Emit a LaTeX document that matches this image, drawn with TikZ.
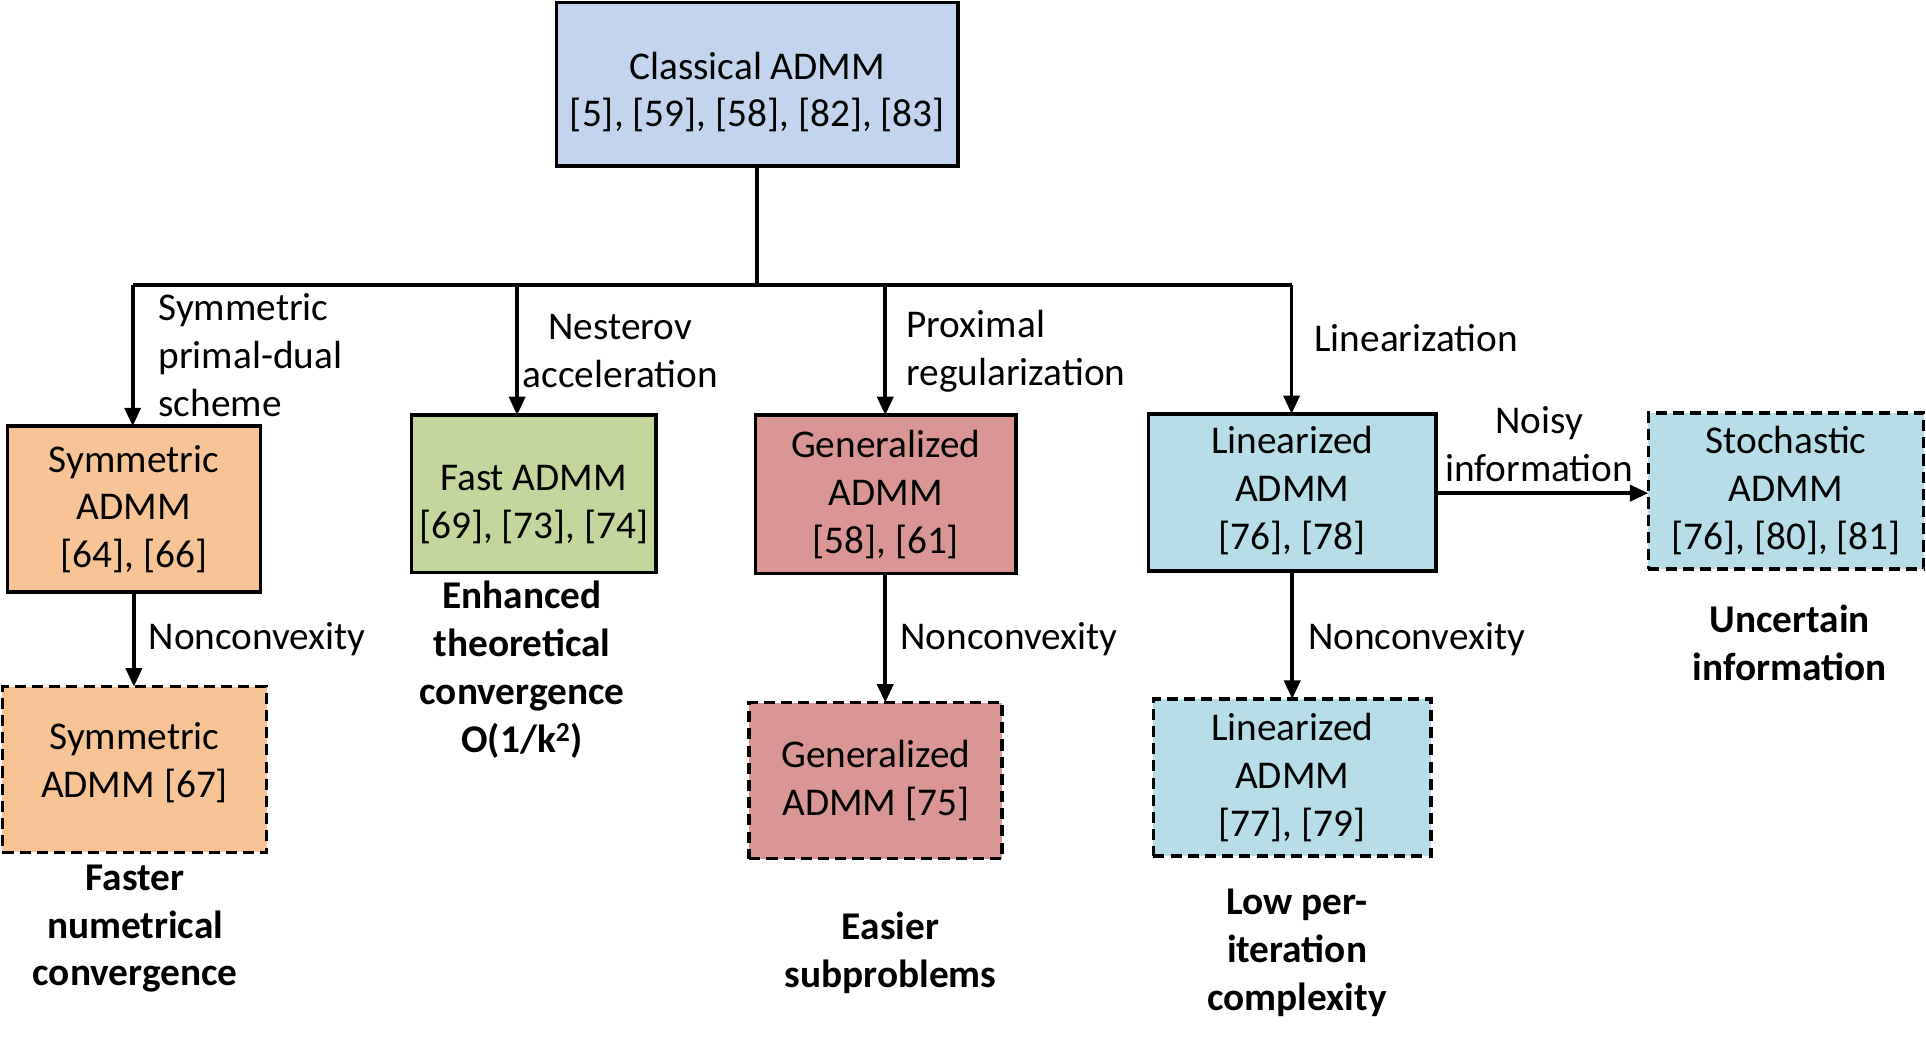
\documentclass[tikz,border=0pt]{standalone}
\usepackage{fontspec}
\setmainfont{Carlito}
\usetikzlibrary{arrows.meta}
\definecolor{cTop}{HTML}{C2D4EE}
\definecolor{cOra}{HTML}{F8C496}
\definecolor{cGre}{HTML}{C3D69B}
\definecolor{cRed}{HTML}{D99694}
\definecolor{cAqu}{HTML}{B7DDE8}
\begin{document}
\begin{tikzpicture}[x=1pt,y=-1pt,
  every node/.style={inner sep=0pt,outer sep=0pt,font=\fontsize{32}{39}\selectfont},
  box/.style={draw=black,line width=3pt,align=center},
  dbox/.style={box,dash pattern=on 9pt off 5pt},
  lbl/.style={align=left,anchor=west},
  res/.style={align=center,font=\fontsize{32}{39}\selectfont\bfseries},
  conn/.style={line width=3pt},
  arr/.style={line width=3pt,-{Triangle[length=15pt,width=13pt]}}]
\useasboundingbox (0,0) rectangle (1568,850);
% boxes
\node[box,fill=cTop,minimum width=327pt,minimum height=133pt] (top) at (616.5,68.5) {\rule{0pt}{35pt}Classical ADMM\\{[5], [59], [58], [82], [83]}};
\node[box,fill=cOra,minimum width=206pt,minimum height=135pt] (sym) at (109,414.5) {Symmetric\\ADMM\\{[64], [66]}};
\node[box,fill=cGre,minimum width=199pt,minimum height=128pt] (fast) at (434.5,402) {\rule{0pt}{38pt}Fast ADMM\\{[69], [73], [74]}};
\node[box,fill=cRed,minimum width=212pt,minimum height=129pt] (gen) at (721,402.5) {Generalized\\ADMM\\{[58], [61]}};
\node[box,fill=cAqu,minimum width=234pt,minimum height=128pt] (lin) at (1052,401) {Linearized\\ADMM\\{[76], [78]}\\[-31pt]};
\node[dbox,fill=cAqu,minimum width=224pt,minimum height=127pt] (sto) at (1454,399.5) {Stochastic\\ADMM\\{[76], [80], [81]}};
\node[dbox,fill=cOra,minimum width=215pt,minimum height=135pt] (symb) at (109.5,626.5) {Symmetric\\ADMM [67]\\[-23pt]};
\node[dbox,fill=cRed,minimum width=206pt,minimum height=127pt] (genb) at (713,635.5) {Generalized\\ADMM [75]};
\node[dbox,fill=cAqu,minimum width=226pt,minimum height=128pt] (linb) at (1052,633) {Linearized\\ADMM\\{[77], [79]}};
% bus
\coordinate (j) at (616.5,232);
\coordinate (jA) at (108,232);
\coordinate (jB) at (421,232);
\coordinate (jC) at (720.7,232);
\coordinate (jD) at (1051.5,232);
\draw[conn] (top.south) -- (j);
\draw[conn] (jA) -- (jD);
\draw[arr] (jA) -- (jA |- sym.north);
\draw[arr] (jB) -- (jB |- fast.north);
\draw[arr] (jC) -- (jC |- gen.north);
\draw[arr] (jD) -- (jD |- lin.north);
\draw[arr] (sym.south) -- (sym.south |- symb.north);
\draw[arr] (gen.south -| jC) -- (jC |- genb.north);
\draw[arr] (lin.south) -- (lin.south |- linb.north);
\coordinate (n1) at (1169,401.5);
\draw[arr] (lin.east |- n1) -- (sto.west |- n1);
% edge labels
\node[lbl] (l1) at (129,289) {Symmetric\\primal-dual\\scheme};
\node[align=center] (l2) at (505,285.5) {Nesterov\\acceleration};
\node[lbl] (l3) at (738,286) {Proximal\\regularization};
\node[lbl] (l4) at (1070,275) {Linearization};
\node[align=center] (l5) at (1253,361.5) {Noisy\\information};
\node[lbl] (l6) at (121,520) {Nonconvexity};
\node[lbl] (l7) at (733,520) {Nonconvexity};
\node[lbl] (l8) at (1065,520) {Nonconvexity};
% results
\node[res] (r1) at (425,545) {Enhanced\\theoretical\\convergence\\O(1/k\textsuperscript{2})};
\node[res] (r2) at (110,756) {Faster\\numetrical\\convergence};
\node[res] (r3) at (725,775.5) {Easier\\subproblems};
\node[res] (r4) at (1056,776) {Low per-\\iteration\\complexity};
\node[res] (r5) at (1457,523.5) {Uncertain\\information};
\end{tikzpicture}
\end{document}
